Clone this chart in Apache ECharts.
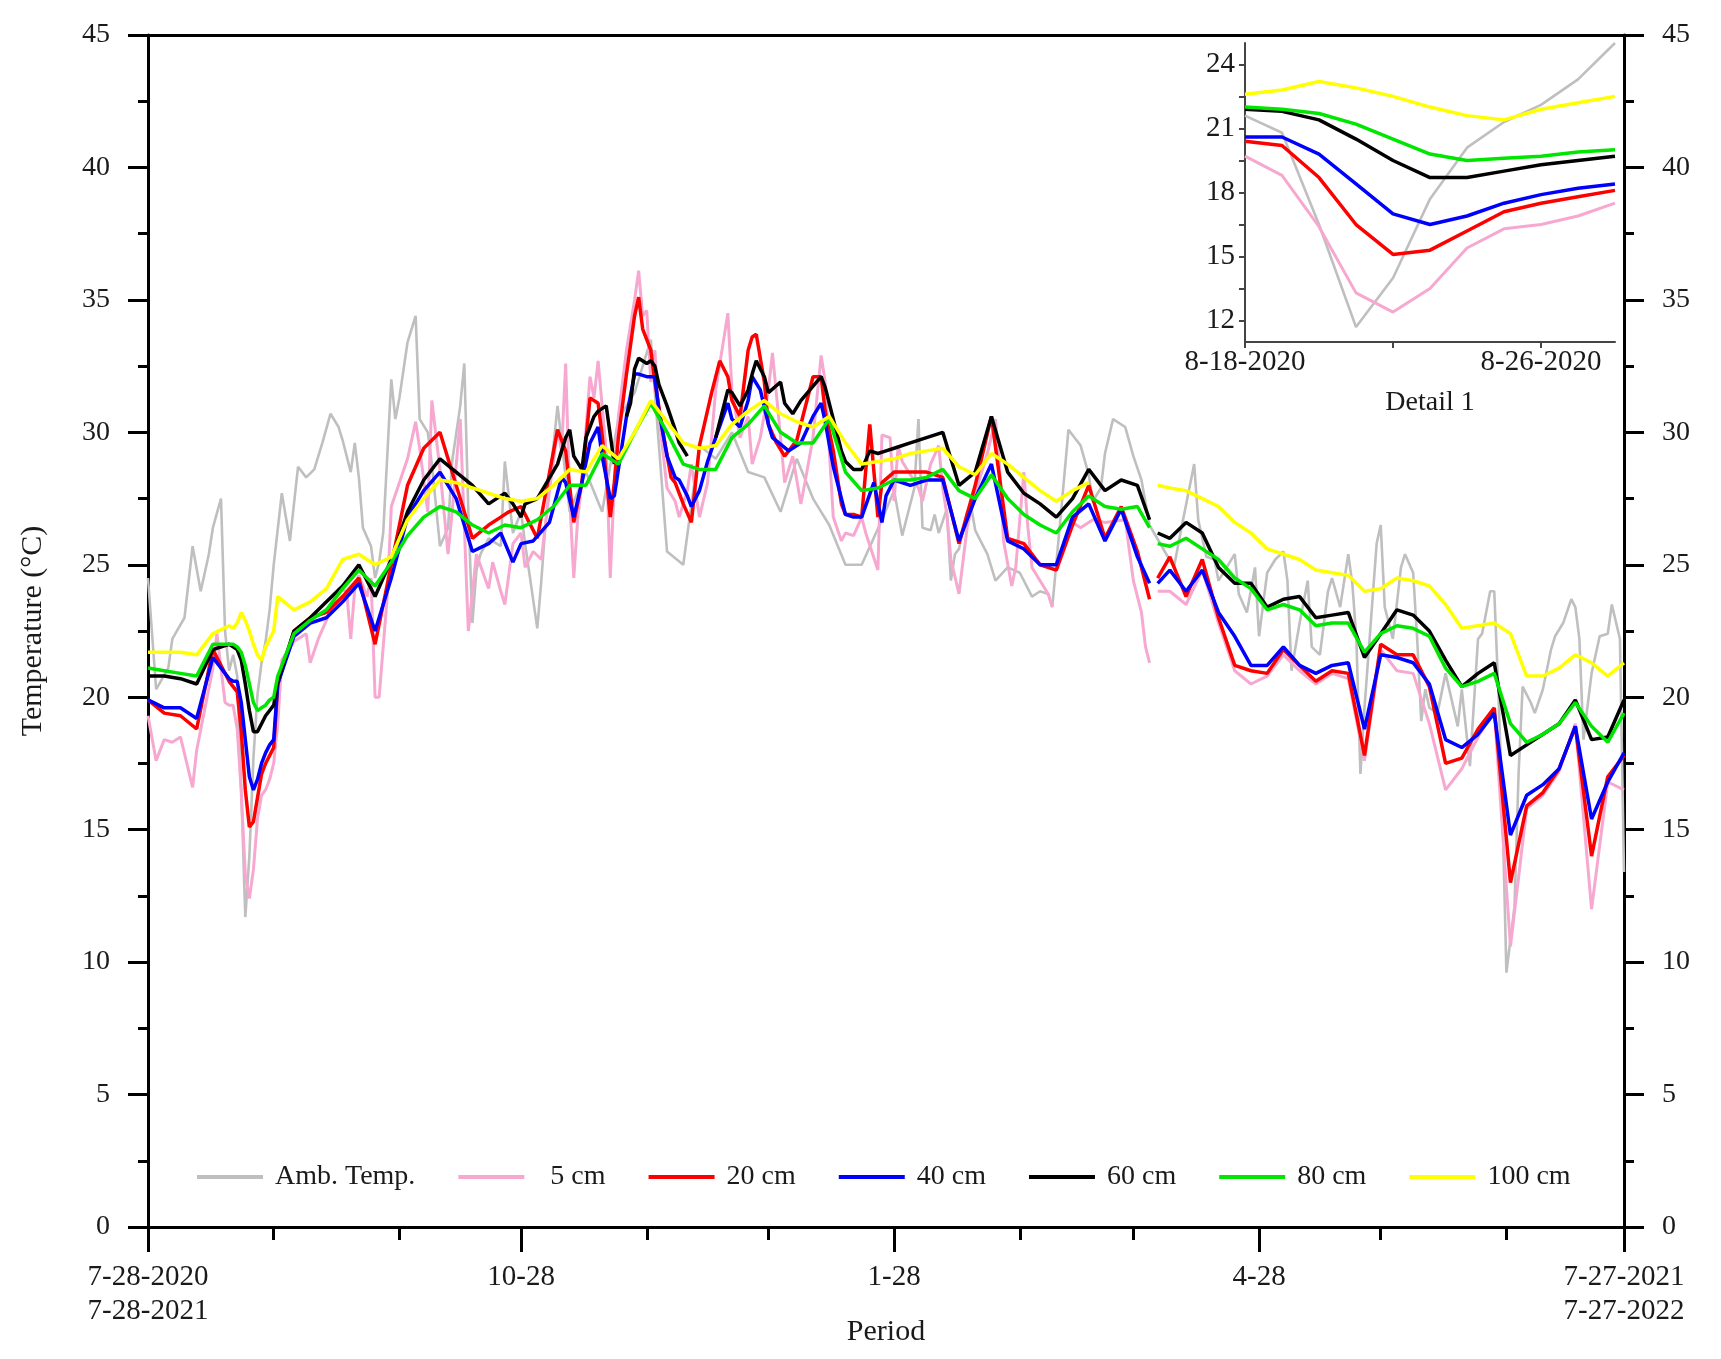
<!DOCTYPE html>
<html><head><meta charset="utf-8">
<script src="https://cdn.jsdelivr.net/npm/echarts@6/dist/echarts.min.js"></script>
<style>html,body{margin:0;padding:0;background:#fff}#c{width:1721px;height:1359px}</style>
</head><body><div id="c"></div>
<script>
// ---- days since 7-28 (start of the period) for 80 / 100 cm ----
const days = [0,4,8,12,16,20,21,22,23,24,25,26,27,28,29,30,31,
  32,36,40,44,48,52,56,60,64,68,72,76,80,84,88,92,
  96,100,104,108,112,116,120,124,128,132,136,140,144,148,152,156,160,164,168,172,176,180,184,
  188,192,196,200,204,208,212,216,220,224,228,232,236,240,244,
  247,248,249,
  252,256,260,264,268,272,276,280,284,288,292,296,300,304,308,312,316,320,324,328,332,336,340,344,348,352,356,360,364];

// ---- day lists shared by 20 / 40 / 60 cm (head + own mid part + tail) ----
const headDays = [0,4,8,12,16,20,21,22,23,24,25,26,27,28,29,30,31,32,36,40,44,48,52,56,60,64,68,72,76,80,84];
const tailDays = [184,188,192,196,200,204,208,212,216,220,224,228,232,236,240,244,247,248,249,
  252,256,260,264,268,272,276,280,284,288,292,296,300,304,308,312,316,320,324,328,332,336,340,344,348,352,356,360,364];

// ---- ambient temperature ----
const ambDays = [0,2,5,6,9,11,13,15,16,18,19,20,
  21,22,23,24,25,26,27,28,29,30,31,
  33,35,37,39,41,43,45,47,48,50,51,52,53,55,56,57,58,60,61,62,64,66,67,69,70,72,74,75,77,78,79,80,81,82,84,87,88,90,92,93,96,97,98,101,
  104,108,112,116,120,124,128,132,136,140,144,148,152,156,160,164,168,172,176,
  181,184,186,189,190,191,193,194,195,197,198,199,200,202,203,204,207,209,212,215,218,220,222,223,225,227,230,232,233,235,236,238,241,243,245,247,250,253,255,258,259,261,263,264,268,269,271,273,
  274,276,278,280,281,282,284,286,287,289,291,292,294,296,297,298,299,300,303,304,305,307,309,310,312,313,314,315,316,318,320,323,324,326,328,329,331,332,333,334,335,337,338,339,341,342,344,346,347,349,351,352,353,354,356,358,360,361,363,364];
const ambTemp = [24.5,20.3,21.1,22.2,23.0,25.7,24.0,25.4,26.4,27.5,22.5,21.0,
  21.6,20.8,16.5,11.7,14.0,17.7,20.1,21.3,22.1,23.3,25.0,
  27.7,25.9,28.7,28.3,28.6,29.6,30.7,30.2,29.7,28.5,29.6,28.3,26.4,25.7,24.5,25.1,26.2,32.0,30.5,31.3,33.4,34.4,30.5,30.0,28.8,25.7,26.4,28.9,31.0,32.6,27.0,22.8,24.8,25.4,26.0,25.7,28.9,26.2,27.0,25.8,22.6,24.4,26.5,31.0,
  27.0,28.5,27.0,30.5,31.5,33.5,25.5,25.0,29.5,29.0,30.0,28.5,28.3,27.0,29.0,27.5,26.5,25.0,25.0,
  26.7,27.8,26.1,27.9,30.5,26.4,26.3,26.9,26.2,27.1,24.4,25.4,25.6,27.0,27.2,26.3,25.4,24.4,24.9,24.7,23.8,24.0,23.9,23.4,26.7,30.1,29.5,28.4,27.4,27.9,29.2,30.5,30.2,29.1,28.2,26.5,25.7,24.9,26.5,28.8,26.7,25.3,25.2,24.4,25.4,23.9,23.2,24.9,
  22.3,24.7,25.2,25.5,24.4,21.0,22.8,24.4,21.9,21.6,24.0,24.5,23.4,25.4,24.3,22.2,17.1,19.6,25.8,26.5,23.4,22.2,24.9,25.4,24.7,22.2,19.1,20.3,19.6,19.4,20.9,18.9,20.3,17.4,22.2,22.4,24.0,24.0,20.3,15.9,9.6,12.1,17.1,20.4,19.8,19.4,20.3,21.8,22.3,22.8,23.7,23.4,22.2,18.4,20.9,22.3,22.4,23.5,22.2,13.4];

// ---- 5 cm ----
const cm5Days = [0,2,4,6,8,11,12,16,17,19,20,
  21,22,23,24,25,26,27,28,29,30,31,
  32,33,36,39,40,42,44,47,49,50,51,52,54,55,56,57,59,60,64,66,67,69,70,72,74,75,77,79,81,84,85,87,88,90,92,93,95,97,99,101,102,103,104,105,106,107,109,110,111,113,114,115,116,118,120,121,122,123,124,125,126,128,130,131,133,134,136,138,139,140,143,144,146,148,149,151,153,154,156,157,159,161,162,164,166,167,169,171,172,174,176,177,180,181,183,184,185,186,188,190,191,193,195,196,197,198,200,202,204,205,207,209,210,211,213,214,216,217,218,220,222,223,225,227,230,233,236,241,243,245,246,247,248,249,
  252,256,260,264,268,272,276,280,284,288,292,296,300,304,308,312,316,320,324,328,332,336,340,344,348,352,356,360,364];
const cm5 = [19.3,17.6,18.4,18.3,18.5,16.6,18.0,21.1,22.4,19.8,19.7,
  19.7,18.8,16.4,13.3,12.4,13.5,15.4,16.3,16.5,16.9,17.5,
  19.0,21.4,22.1,22.4,21.3,22.2,22.9,24.1,24.0,22.2,24.1,24.6,23.8,24.5,20.0,20.0,23.8,27.2,29.0,30.4,29.4,27.0,31.2,28.6,25.4,27.0,30.5,22.5,25.4,24.1,25.1,24.0,23.5,25.8,26.2,24.9,25.5,25.2,27.8,30.1,29.3,32.6,27.5,24.5,26.8,28.1,32.1,31.3,32.7,29.3,24.5,28.1,30.6,33.1,35.0,36.1,34.4,34.6,31.9,33.1,30.6,27.9,27.4,26.8,27.8,28.8,26.8,28.1,29.8,31.6,34.5,31.6,29.8,30.6,28.8,29.8,31.6,33.0,29.8,28.1,29.1,27.3,28.1,29.8,32.9,31.9,26.8,25.9,26.2,26.1,26.8,26.2,24.8,29.9,29.8,27.4,29.5,28.9,28.4,27.9,27.4,28.8,29.5,27.9,26.9,25.2,23.9,26.4,27.7,28.2,29.2,30.5,28.7,25.9,24.2,24.9,28.5,26.4,24.9,24.4,23.9,23.4,null,26.7,26.4,26.7,26.6,26.7,24.4,23.2,21.9,21.3,null,24.0,
  24.0,23.5,24.8,22.8,21.0,20.5,20.8,21.6,21.0,20.5,20.9,20.7,17.6,21.8,21.0,20.9,19.0,16.5,17.3,18.5,19.5,10.6,15.8,16.3,17.2,19.0,12.0,16.8,16.5];

// ---- 20 cm ----
const cm20Head = [19.9,19.4,19.3,18.8,21.8,20.6, 20.4,20.2,18.7,16.5,15.1,15.3,16.2,17.1,17.5,17.8,18.1,
  20.5,22.5,23.0,23.2,23.8,24.5,22.0,25.0,28.0,29.4,30.0,28.0,26.0,26.5];
const cm20MidDays = [87,89,92,94,96,101,103,105,107,109,111,112,114,115,116,118,120,121,122,124,125,127,129,130,132,134,136,139,141,143,144,146,148,149,150,152,153,155,157,158,160,164,166,167,169,171,172,174,176,178,180,181];
const cm20Mid = [26.8,27.0,27.2,26.6,26.0,30.1,29.3,26.6,28.1,31.3,31.1,29.9,26.8,28.1,29.8,32.2,34.4,35.1,33.9,33.1,31.9,30.0,28.3,28.1,27.3,26.6,29.5,31.5,32.7,32.1,31.2,30.6,33.1,33.6,33.7,31.9,30.3,29.6,29.1,29.3,29.7,32.1,32.1,30.8,29.3,27.3,26.9,26.9,26.8,30.3,26.8,28.1];
const cm20Tail = [28.5, 28.5,28.5,28.3,25.8,28.0,30.6,26.0,25.8,25.0,24.8,26.5,28.0,26.0,27.2,25.5, 23.7,null,24.5,
  25.3,23.8,25.2,23.0,21.2,21.0,20.9,21.8,21.2,20.6,21.0,20.9,17.8,22.0,21.6,21.6,20.4,17.5,17.7,18.8,19.6,13.0,15.9,16.4,17.3,18.9,14.0,17.0,17.8];

// ---- 40 cm ----
const cm40Head = [19.9,19.6,19.6,19.2,21.5,20.7, 20.6,20.6,19.8,18.4,17.0,16.5,16.9,17.5,17.9,18.2,18.4,
  20.5,22.3,22.8,23.0,23.6,24.3,22.5,24.5,26.8,27.8,28.5,27.5,25.5,25.8];
const cm40MidDays = [87,90,92,95,99,102,103,105,107,109,111,112,114,115,118,120,121,123,125,126,128,130,131,133,134,136,138,140,143,144,146,148,149,151,153,154,158,161,164,166,167,169,171,172,174,176,179,181,182];
const cm40Mid = [26.2,25.1,25.8,25.9,26.6,28.3,28.1,26.8,28.1,29.6,30.2,29.1,27.5,27.6,30.6,32.2,32.2,32.1,32.1,30.8,29.1,28.3,28.2,27.6,27.2,27.8,28.9,29.8,31.1,30.5,30.2,31.2,32.1,31.6,30.3,29.8,29.3,29.6,30.6,31.1,30.4,28.7,27.5,26.9,26.8,26.8,28.1,26.6,27.6];
const cm40Tail = [28.2, 28.0,28.2,28.2,25.9,27.5,28.8,25.9,25.6,25.0,25.0,26.8,27.3,25.9,27.1,25.3, 24.3,null,24.3,
  24.8,24.0,24.8,23.2,22.3,21.2,21.2,21.9,21.2,20.9,21.2,21.3,18.8,21.6,21.5,21.3,20.5,18.4,18.1,18.6,19.4,14.8,16.3,16.7,17.3,18.9,15.4,16.8,17.9];

// ---- 60 cm ----
const cm60Head = [20.8,20.8,20.7,20.5,21.8,22.0, 21.9,21.8,21.4,20.5,19.5,18.7,18.7,19.0,19.3,19.5,19.7,
  20.6,22.5,23.0,23.6,24.2,25.0,23.8,25.2,27.0,28.2,29.0,28.5,28.0,27.3];
const cm60MidDays = [87,88,90,92,93,96,101,103,104,105,107,108,110,111,113,115,116,118,119,120,121,123,124,125,126,128,130,131,133,136,140,143,144,146,148,149,150,152,153,156,157,159,161,166,167,169,171,172,174,176,178,180,182];
const cm60Mid = [27.6,27.7,27.3,26.8,27.3,27.5,28.8,29.8,30.1,29.1,28.6,29.8,30.6,30.8,31.0,28.8,null,30.6,31.1,32.4,32.8,32.6,32.7,32.5,31.8,31.0,30.1,29.6,29.1,null,29.8,31.6,31.5,31.0,31.6,32.2,32.7,32.1,31.5,31.9,31.1,30.7,31.2,32.1,31.7,30.5,29.3,28.9,28.6,28.6,29.3,29.2,29.3];
const cm60Tail = [29.4, 29.6,29.8,30.0,28.0,28.5,30.6,28.5,27.7,27.3,26.8,27.5,28.6,27.8,28.2,28.0, 26.7,null,26.2,
  26.0,26.6,26.2,24.9,24.3,24.3,23.4,23.7,23.8,23.0,23.1,23.2,21.5,22.4,23.3,23.1,22.5,21.4,20.4,20.9,21.3,17.8,18.2,18.6,19.0,19.9,18.4,18.5,19.9];

// ---- 80 cm ----
const cm80 = [21.1,21.0,20.9,20.8,22.0,22.0,
  22.0,21.9,21.7,21.2,20.5,19.8,19.5,19.6,19.7,19.9,20.0,
  20.8,22.4,22.9,23.3,24.1,24.8,24.2,25.1,26.1,26.8,27.2,27.0,26.5,26.2,26.5,26.4,
  26.7,27.2,28.0,28.0,29.2,28.8,30.0,31.1,30.0,28.8,28.6,28.6,29.8,30.3,31.0,30.0,29.6,29.6,30.5,28.5,27.8,27.9,28.2,
  28.2,28.3,28.6,27.8,27.5,28.4,27.5,26.9,26.5,26.2,27.0,27.6,27.2,27.1,27.2,
  26.4,null,25.8,
  25.7,26.0,25.6,25.2,24.5,24.1,23.3,23.5,23.3,22.7,22.8,22.8,21.7,22.4,22.7,22.6,22.3,21.1,20.4,20.6,20.9,19.0,18.3,18.6,19.0,19.8,18.9,18.3,19.4];

// ---- 100 cm ----
const cm100 = [21.7,21.7,21.7,21.6,22.4,22.7,
  22.6,22.8,23.2,22.9,22.5,22.0,21.6,21.4,21.9,22.2,22.5,
  23.8,23.3,23.6,24.1,25.2,25.4,25.0,25.3,26.7,27.5,28.2,28.1,27.9,27.7,27.5,27.4,
  27.5,28.0,28.6,28.5,29.5,29.0,30.0,31.2,30.4,29.6,29.4,29.5,30.3,30.8,31.2,30.7,30.4,30.2,30.6,29.6,28.8,28.9,29.0,
  29.2,29.3,29.4,28.7,28.4,29.2,28.8,28.3,27.8,27.4,27.8,28.1,null,null,null,
  null,null,28.0,
  27.9,27.8,27.5,27.2,26.6,26.2,25.6,25.4,25.2,24.8,24.7,24.6,24.0,24.1,24.5,24.4,24.2,23.5,22.6,22.7,22.8,22.4,20.8,20.8,21.1,21.6,21.3,20.8,21.3];

// ---- Detail 1 (8-18-2020 .. 8-28-2020), days since 8-18 ----
const insetDays = [0,1,2,3,4,5,6,7,8,9,10];
const insetAmb   = [21.6,20.8,16.5,11.7,14.0,17.7,20.1,21.3,22.1,23.3,25.0];
const inset5     = [19.7,18.8,16.4,13.3,12.4,13.5,15.4,16.3,16.5,16.9,17.5];
const inset20    = [20.4,20.2,18.7,16.5,15.1,15.3,16.2,17.1,17.5,17.8,18.1];
const inset40    = [20.6,20.6,19.8,18.4,17.0,16.5,16.9,17.5,17.9,18.2,18.4];
const inset60    = [21.9,21.8,21.4,20.5,19.5,18.7,18.7,19.0,19.3,19.5,19.7];
const inset80    = [22.0,21.9,21.7,21.2,20.5,19.8,19.5,19.6,19.7,19.9,20.0];
const inset100   = [22.6,22.8,23.2,22.9,22.5,22.0,21.6,21.4,21.9,22.2,22.5];

// ---- tick labels ----
const majorDays = [0,92,184,274,364];
const majorLabels = ['7-28-2020\n7-28-2021','10-28','1-28','4-28','7-27-2021\n7-27-2022'];
const minorDays = [31,62,123,153,215,243,304,335];
const insetTickDays = [0,4,8];
const insetLabelDays = [0,8];
const insetLabels = ['8-18-2020','8-26-2020'];
const insetYTicks = [12,13.5,15,16.5,18,19.5,21,22.5,24];
const insetYLabels = [12,15,18,21,24];

const names = ['Amb. Temp.','5 cm','20 cm','40 cm','60 cm','80 cm','100 cm'];

// ---- build chart ----
const FONT = 'Liberation Serif';
const TXT = '#1a1a1a';
const colors = ['#bfbfbf','#f7a8d0','#ff0000','#0000ff','#000000','#00e600','#ffff00'];
const widths = [2.6,3.0,3.5,3.5,3.5,3.5,3.5];
const cat = (a,b,c) => a.concat(b,c);
const mainX = [ambDays, cm5Days,
  cat(headDays,cm20MidDays,tailDays), cat(headDays,cm40MidDays,tailDays), cat(headDays,cm60MidDays,tailDays),
  days, days];
const mainVals = [ambTemp, cm5,
  cat(cm20Head,cm20Mid,cm20Tail), cat(cm40Head,cm40Mid,cm40Tail), cat(cm60Head,cm60Mid,cm60Tail),
  cm80, cm100];
const insetVals = [insetAmb,inset5,inset20,inset40,inset60,inset80,inset100];
const pair = (xs,ys) => xs.map((x,i)=>[x, ys[i]]);

const series = [];
mainVals.forEach((v,i)=>series.push({
  name:names[i], type:'line', xAxisIndex:0, yAxisIndex:0, data:pair(mainX[i],v),
  showSymbol:false, symbol:'none', connectNulls:false, color:colors[i],
  lineStyle:{width:widths[i], color:colors[i]}, z:2+i
}));
insetVals.forEach((v,i)=>series.push({
  name:'detail-'+i, type:'line', xAxisIndex:2, yAxisIndex:2, data:pair(insetDays,v),
  showSymbol:false, symbol:'none', color:colors[i],
  lineStyle:{width:widths[i], color:colors[i]}, z:2+i
}));

const lbl = (size, extra) => Object.assign({fontFamily:FONT, fontSize:size, color:TXT}, extra||{});
const blackLine = {color:'#000', width:3};

const option = {
  animation:false,
  backgroundColor:'#fff',
  grid:[
    {left:148, right:97, top:35, bottom:132},
    {left:1245, right:106, top:43, bottom:1017},
    {left:148, right:97, top:35, bottom:132}
  ],
  legend:{
    data:names, left:192, top:1158, orient:'horizontal',
    itemWidth:66, itemHeight:4, itemGap:43, icon:'rect', selectedMode:false,
    formatter: n => (n==='5 cm' ? '   ' : ' ') + n,
    textStyle: lbl(28)
  },
  xAxis:[
    {gridIndex:0, type:'value', min:0, max:364, position:'bottom',
     axisLine:{show:true, onZero:false, lineStyle:blackLine},
     axisTick:{show:true, customValues:majorDays, length:25, inside:false, lineStyle:blackLine},
     axisLabel:lbl(29,{show:true, customValues:majorDays, margin:33, lineHeight:34, hideOverlap:false,
       formatter: v => { const k = majorDays.indexOf(v); return k>=0 ? majorLabels[k] : ''; }}),
     splitLine:{show:false},
     name:'Period', nameLocation:'middle', nameGap:90, nameMoveOverlap:false, nameTextStyle:lbl(30)},
    {gridIndex:0, type:'value', min:0, max:364, position:'top',
     axisLine:{show:true, onZero:false, lineStyle:blackLine},
     axisTick:{show:false}, axisLabel:{show:false}, splitLine:{show:false}},
    {gridIndex:1, type:'value', min:0, max:10, position:'bottom',
     axisLine:{show:true, onZero:false, lineStyle:{color:'#444', width:2}},
     axisTick:{show:true, customValues:insetTickDays, length:6, lineStyle:{color:'#444', width:2}},
     axisLabel:lbl(29,{customValues:insetLabelDays, margin:6, hideOverlap:false,
       formatter: v => { const k = insetLabelDays.indexOf(v); return k>=0 ? insetLabels[k] : ''; }}),
     splitLine:{show:false},
     name:'Detail 1', nameLocation:'middle', nameGap:47, nameTextStyle:lbl(28)},
    {gridIndex:2, type:'value', min:0, max:364, position:'bottom',
     axisLine:{show:false},
     axisTick:{show:true, customValues:minorDays, length:13, lineStyle:blackLine},
     axisLabel:{show:false}, splitLine:{show:false}}
  ],
  yAxis:[
    {gridIndex:0, type:'value', min:0, max:45, interval:5, position:'left',
     axisLine:{show:true, onZero:false, lineStyle:blackLine},
     axisTick:{show:true, length:20, lineStyle:blackLine},
     minorTick:{show:true, splitNumber:2, length:10, lineStyle:blackLine},
     axisLabel:lbl(28,{margin:38}),
     splitLine:{show:false}, minorSplitLine:{show:false},
     name:'Temperature (°C)', nameLocation:'middle', nameGap:100, nameTextStyle:lbl(30)},
    {gridIndex:0, type:'value', min:0, max:45, interval:5, position:'right',
     axisLine:{show:true, onZero:false, lineStyle:blackLine},
     axisTick:{show:true, length:20, lineStyle:blackLine},
     minorTick:{show:true, splitNumber:2, length:10, lineStyle:blackLine},
     axisLabel:lbl(28,{margin:38}),
     splitLine:{show:false}, minorSplitLine:{show:false}},
    {gridIndex:1, type:'value', min:11, max:25, position:'left',
     axisLine:{show:true, onZero:false, lineStyle:{color:'#444', width:2}},
     axisTick:{show:true, customValues:insetYTicks, length:6, lineStyle:{color:'#444', width:2}},
     axisLabel:lbl(29,{customValues:insetYLabels, margin:10}),
     splitLine:{show:false}},
    {gridIndex:2, type:'value', min:0, max:45, show:false}
  ],
  series: series
};
const chart = echarts.init(document.getElementById('c'), null, {renderer:'canvas'});
chart.setOption(option);
</script>
</body></html>
